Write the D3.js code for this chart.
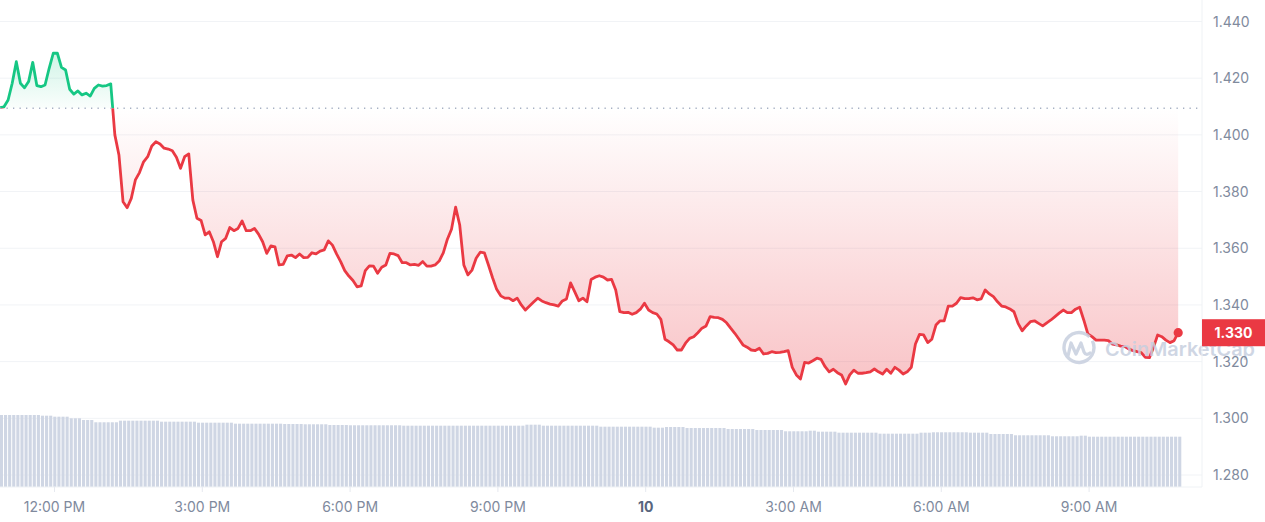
<!DOCTYPE html>
<html><head><meta charset="utf-8">
<script src="https://cdn.jsdelivr.net/npm/d3@7"></script>
<style>
html,body{margin:0;padding:0;background:#fff;}
svg{display:block;font-family:Inter,"Noto Sans",sans-serif;}
</style></head><body>
<svg id="chart" width="1265" height="522"></svg>
<script>
// ---------- DATA ----------
const startTime = new Date(2024, 0, 9, 10, 53, 30);
const stepMinutes = 5;
const openPrice = 1.4094;
const prices = [
1.4096,1.4099,1.4123,1.4182,1.4258,1.4182,1.4166,1.4188,1.4256,1.4174,
1.4170,1.4176,1.4235,1.4288,1.4288,1.4238,1.4229,1.4161,1.4144,1.4155,
1.4141,1.4147,1.4137,1.4164,1.4176,1.4172,1.4174,1.4180,
1.4000,1.3929,1.3764,1.3743,1.3776,1.3841,1.3867,1.3905,1.3923,1.3961,
1.3976,1.3968,1.3953,1.3950,1.3944,1.3921,1.3882,1.3923,1.3933,1.3770,
1.3706,1.3698,1.3647,1.3658,1.3623,1.3570,1.3623,1.3635,1.3673,1.3662,
1.3670,1.3696,1.3662,1.3662,1.3670,1.3650,1.3623,1.3582,1.3608,1.3605,
1.3541,1.3543,1.3573,1.3576,1.3567,1.3580,1.3567,1.3568,1.3584,1.3580,
1.3590,1.3594,1.3626,1.3611,1.3580,1.3553,1.3521,1.3502,1.3486,1.3464,
1.3467,1.3521,1.3538,1.3537,1.3512,1.3533,1.3541,1.3582,1.3580,1.3574,
1.3549,1.3549,1.3541,1.3543,1.3540,1.3553,1.3537,1.3537,1.3541,1.3555,
1.3584,1.3632,1.3667,1.3745,1.3682,1.3541,1.3506,1.3523,1.3565,1.3586,
1.3584,1.3541,1.3496,1.3455,1.3432,1.3424,1.3424,1.3415,1.3424,1.3400,
1.3382,1.3396,1.3410,1.3424,1.3414,1.3408,1.3403,1.3400,1.3396,1.3414,
1.3421,1.3478,1.3447,1.3415,1.3424,1.3411,1.3490,1.3498,1.3503,1.3498,
1.3488,1.3490,1.3453,1.3376,1.3373,1.3374,1.3367,1.3373,1.3385,1.3406,
1.3382,1.3373,1.3368,1.3349,1.3279,1.3270,1.3259,1.3241,1.3241,1.3265,
1.3282,1.3288,1.3302,1.3318,1.3326,1.3359,1.3356,1.3355,1.3349,1.3337,
1.3318,1.3300,1.3280,1.3259,1.3251,1.3241,1.3239,1.3247,1.3227,1.3229,
1.3235,1.3232,1.3233,1.3235,1.3239,1.3180,1.3153,1.3139,1.3197,1.3195,
1.3203,1.3212,1.3208,1.3182,1.3164,1.3173,1.3161,1.3153,1.3121,1.3153,
1.3170,1.3159,1.3159,1.3161,1.3164,1.3174,1.3164,1.3156,1.3173,1.3159,
1.3180,1.3170,1.3156,1.3164,1.3180,1.3262,1.3296,1.3294,1.3267,1.3279,
1.3329,1.3344,1.3344,1.3396,1.3396,1.3406,1.3426,1.3422,1.3422,1.3425,
1.3418,1.3421,1.3453,1.3439,1.3429,1.3411,1.3396,1.3393,1.3386,1.3376,
1.3335,1.3309,1.3326,1.3341,1.3344,1.3335,1.3326,1.3337,1.3347,1.3359,
1.3371,1.3382,1.3373,1.3373,1.3385,1.3392,1.3347,1.3298,1.3288,1.3276,
1.3276,1.3276,1.3274,1.3262,1.3259,1.3255,1.3253,1.3244,1.3239,1.3235,
1.3232,1.3215,1.3214,1.3251,1.3294,1.3288,1.3276,1.3267,1.3274,1.3302
];
const volumes = [
180,180,180,180,180,180,180,180,180,180,
178.3,178.3,178.3,175.8,175.8,175.8,175.8,171.8,171.8,171.8,
167.5,167.5,167.5,161.8,161.8,161.8,161.8,161.8,161.8,165.8,
165.8,165.8,165.8,165.8,165.8,165.8,165.8,165.8,165.8,163.3,
163.3,163.3,163.3,163.3,163.3,163.3,163.3,163.3,160.8,160.8,
160.8,160.8,160.8,160.8,160.8,160.8,160.8,158.3,158.3,158.3,
158.3,158.3,158.3,158.3,158.3,158.3,158.3,158.3,158.3,157.5,
157.5,157.5,157.5,157.5,156.8,156.8,156.8,156.8,156.8,156.8,
155,155,155,155,155,154.3,154.3,154.3,154.3,154.3,
154.3,154.3,154.3,154.3,154.3,154.3,154.3,154.3,153.3,153.3,
153.3,153.3,153.3,153.3,153.3,153.3,153.3,153.3,153.3,153.3,
153.3,153.3,153.3,153.3,153.3,153.3,153.3,153.3,153.3,153.3,
153.3,153.3,153.3,153.3,153.3,153.3,153.3,153.3,155.8,155.8,
155.8,155.8,153.3,153.3,153.3,153.3,153.3,153.3,153.3,153.3,
153.3,153.3,153.3,153.3,153.3,153.3,150.8,150.8,150.8,150.8,
150.8,150.8,150.8,150.8,150.8,150.8,150.8,150.8,150.8,148.3,
148.3,148.3,150,150,150,150,150,147.5,147.5,147.5,
147.5,147.5,147.5,147.5,147.5,147.5,147.5,145,145,145,
145,145,145,145,142.5,142.5,142.5,142.5,142.5,142.5,
142.5,139.3,139.3,139.3,139.3,139.3,139.3,140.8,140.8,138.3,
138.3,138.3,138.3,138.3,135.8,135.8,135.8,135.8,135.8,135.8,
135.8,135.8,135.8,135.8,133.3,133.3,133.3,133.3,133.3,133.3,
133.3,133.3,133.3,133.3,135.8,135.8,135.8,136.8,136.8,136.8,
136.8,136.8,136.8,136.8,136.8,136.8,135.8,135.8,135.8,135.8,
135.8,132.5,132.5,132.5,132.5,132.5,132.5,129.3,129.3,129.3,
129.3,129.3,129.3,129.3,129.3,129.3,126.8,126.8,126.8,126.8,
126.8,126.8,126.8,128.3,128.3,125.8,125.8,125.8,125.8,125.8,
125.8,125.8,125.8,125.8,125.8,125.8,125.8,125.8,125.8,125.8,
125.8,125.8,125.8,125.8,125.8,125.8,125.8,125.8
];
const yTicks = [1.28, 1.30, 1.32, 1.34, 1.36, 1.38, 1.40, 1.42, 1.44];
const xTickTimes = [
  new Date(2024,0,9,12), new Date(2024,0,9,15), new Date(2024,0,9,18), new Date(2024,0,9,21),
  new Date(2024,0,10,0), new Date(2024,0,10,3), new Date(2024,0,10,6), new Date(2024,0,10,9)
];
const xTickLabels = ["12:00 PM","3:00 PM","6:00 PM","9:00 PM","10","3:00 AM","6:00 AM","9:00 AM"];
const watermarkText = "CoinMarketCap";

// ---------- LAYOUT ----------
const plotRight = 1202, plotBottom = 487;
const GREEN = "#16c784", RED = "#ea3943";

const svg = d3.select("#chart");
const x = d3.scaleTime()
  .domain([new Date(2024,0,9,10,53,38), new Date(2024,0,10,11,17,30)])
  .range([0, plotRight]);
const y = d3.scaleLinear().domain([1.28, 1.44]).range([475, 21.5]);
const vy = d3.scaleLinear().domain([0, d3.max(volumes)]).range([plotBottom, 415]);

const data = prices.map((p, i) => ({
  t: d3.timeMinute.offset(startTime, i * stepMinutes), p, v: volumes[i]
}));
const baseY = y(openPrice);

const defs = svg.append("defs");
defs.append("clipPath").attr("id","plot").append("rect")
  .attr("x",0).attr("y",0).attr("width",plotRight).attr("height",plotBottom);
defs.append("clipPath").attr("id","above").append("rect")
  .attr("x",0).attr("y",0).attr("width",plotRight).attr("height",baseY);
defs.append("clipPath").attr("id","below").append("rect")
  .attr("x",0).attr("y",baseY).attr("width",plotRight).attr("height",plotBottom-baseY);

const gG = defs.append("linearGradient").attr("id","gGreen")
  .attr("gradientUnits","userSpaceOnUse").attr("x1",0).attr("x2",0)
  .attr("y1", y(d3.max(prices))).attr("y2", baseY);
gG.append("stop").attr("offset","0").attr("stop-color",GREEN).attr("stop-opacity",0.2);
gG.append("stop").attr("offset","1").attr("stop-color",GREEN).attr("stop-opacity",0.02);
const gR = defs.append("linearGradient").attr("id","gRed")
  .attr("gradientUnits","userSpaceOnUse").attr("x1",0).attr("x2",0)
  .attr("y1", baseY).attr("y2", y(d3.min(prices)));
gR.append("stop").attr("offset","0").attr("stop-color",RED).attr("stop-opacity",0.0);
gR.append("stop").attr("offset","1").attr("stop-color",RED).attr("stop-opacity",0.3);

// grid
svg.append("g").selectAll("line").data(yTicks).join("line")
  .attr("x1",0).attr("x2",plotRight)
  .attr("y1",d=>y(d)).attr("y2",d=>y(d))
  .attr("stroke","#f1f3f6").attr("stroke-width",1);

// volume bars
const barW = x(d3.timeMinute.offset(startTime, stepMinutes)) - x(startTime) - 1;
svg.append("g").attr("clip-path","url(#plot)").selectAll("rect").data(data).join("rect")
  .attr("x", d => x(d.t))
  .attr("y", d => vy(d.v))
  .attr("width", barW)
  .attr("height", d => plotBottom - vy(d.v))
  .attr("fill", "#cfd6e4");

// areas
const area = d3.area().x(d=>x(d.t)).y0(baseY).y1(d=>y(d.p));
const line = d3.line().x(d=>x(d.t)).y(d=>y(d.p));
const gp = svg.append("g").attr("clip-path","url(#plot)");
gp.append("g").attr("clip-path","url(#above)").append("path")
  .attr("d", area(data)).attr("fill","url(#gGreen)");
gp.append("g").attr("clip-path","url(#below)").append("path")
  .attr("d", area(data)).attr("fill","url(#gRed)");

// baseline dotted
svg.append("line").attr("x1",0).attr("x2",plotRight).attr("y1",baseY).attr("y2",baseY)
  .attr("stroke","#a6b0c3").attr("stroke-width",1.3).attr("stroke-dasharray","1.3,5.2");

// watermark
const wm = svg.append("g").attr("opacity",0.85);
wm.append("path")
  .attr("d", d3.arc()({innerRadius:13.3, outerRadius:16.7, startAngle:0.35*Math.PI, endAngle:2.25*Math.PI}))
  .attr("transform","translate(1079,347.5)").attr("fill","#c7cfdf");
wm.append("path")
  .attr("d","M1068,356 L1071,343 L1076,354 L1081,343 L1084,352 Q1086,356 1090,353")
  .attr("fill","none").attr("stroke","#c7cfdf").attr("stroke-width",3.2)
  .attr("stroke-linejoin","round").attr("stroke-linecap","round");
wm.append("text").attr("x",1105).attr("y",356).text(watermarkText)
  .attr("font-size",19).attr("font-weight",600).attr("fill","#c7cfdf")
  .attr("textLength",150).attr("lengthAdjust","spacingAndGlyphs");

// lines
gp.append("g").attr("clip-path","url(#above)").append("path")
  .attr("d", line(data)).attr("fill","none").attr("stroke",GREEN)
  .attr("stroke-width",2.8).attr("stroke-linejoin","round");
gp.append("g").attr("clip-path","url(#below)").append("path")
  .attr("d", line(data)).attr("fill","none").attr("stroke",RED)
  .attr("stroke-width",2.8).attr("stroke-linejoin","round");

// last dot
const last = data[data.length-1];
svg.append("circle").attr("cx",x(last.t)).attr("cy",y(last.p)).attr("r",4.6).attr("fill",RED);

// axes frame
svg.append("line").attr("x1",plotRight).attr("x2",plotRight).attr("y1",0).attr("y2",plotBottom)
  .attr("stroke","#eff2f5");
svg.append("line").attr("x1",0).attr("x2",plotRight).attr("y1",plotBottom).attr("y2",plotBottom)
  .attr("stroke","#eff2f5");

// y labels
svg.append("g").selectAll("text").data(yTicks).join("text")
  .attr("x",1213).attr("y",d=>y(d)).attr("dy","0.36em")
  .attr("font-size",14).attr("fill","#808a9d")
  .text(d=>d3.format(".3f")(d));

// x ticks + labels
const xg = svg.append("g");
xg.selectAll("line").data(xTickTimes).join("line")
  .attr("x1",d=>x(d)).attr("x2",d=>x(d)).attr("y1",plotBottom).attr("y2",plotBottom+5)
  .attr("stroke","#e6e9ef");
xg.selectAll("text").data(xTickTimes).join("text")
  .attr("x",d=>x(d)).attr("y",512).attr("text-anchor","middle")
  .attr("font-size",14)
  .attr("font-weight",(d,i)=>xTickLabels[i]==="10"?700:400)
  .attr("fill",(d,i)=>xTickLabels[i]==="10"?"#58667e":"#808a9d")
  .text((d,i)=>xTickLabels[i]);

// last price label
const ly = y(last.p);
svg.append("rect").attr("x",plotRight).attr("y",ly-13.5).attr("width",1265-plotRight).attr("height",27)
  .attr("fill",RED);
svg.append("text").attr("x",1233.5).attr("y",ly).attr("dy","0.36em").attr("text-anchor","middle")
  .attr("font-size",14).attr("font-weight",700).attr("fill","#fff")
  .text(d3.format(".3f")(last.p));
</script>
</body></html>
